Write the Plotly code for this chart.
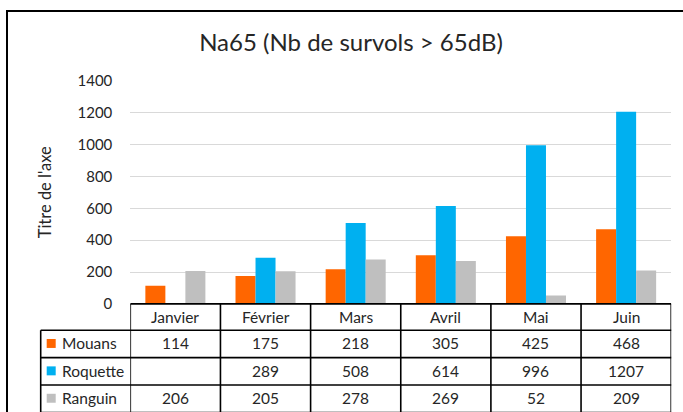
import plotly.graph_objects as go

months = ["Janvier", "Février", "Mars", "Avril", "Mai", "Juin"]
series_names = ["Mouans", "Roquette", "Ranguin"]
mouans = [114, 175, 218, 305, 425, 468]
roquette = [None, 289, 508, 614, 996, 1207]
ranguin = [206, 205, 278, 269, 52, 209]
y_ticks = [0, 200, 400, 600, 800, 1000, 1200, 1400]

colors = ["#FF6600", "#00B0F0", "#BFBFBF"]
values = [mouans, roquette, ranguin]

W, H = 683, 412
FONT = "Lato"
TXT = "#262626"
TS = 15.5


def px(x):
    return x / W


def py(r):
    # vertical position (target pixel r, from top) -> paper coordinate
    y = (r - 9.5) / 0.96
    return (H - y) / H


fig = go.Figure()
for name, vals, col in zip(series_names, values, colors):
    fig.add_trace(go.Bar(x=months, y=vals, name=name, marker_color=col,
                         marker_line_width=0))

shapes = []
annotations = []
LW = 1.6
n = len(months)
t_top, rows_y = 304.5, [331, 358.5, 386, 413.5]
leg_left, right = 40.7, 671.2
shapes.append(dict(type="line", xref="x", yref="paper", x0=-0.5, x1=n - 0.5,
                   y0=py(t_top), y1=py(t_top), line=dict(color="black", width=LW)))
for ry in rows_y:
    shapes.append(dict(type="line", xref="paper", yref="paper", x0=px(leg_left), x1=px(right),
                       y0=py(ry), y1=py(ry), line=dict(color="black", width=LW)))
for k in range(n + 1):
    shapes.append(dict(type="line", xref="x", yref="paper", x0=k - 0.5, x1=k - 0.5,
                       y0=py(t_top), y1=py(rows_y[-1]), line=dict(color="black", width=LW)))
shapes.append(dict(type="line", xref="paper", yref="paper", x0=px(leg_left), x1=px(leg_left),
                   y0=py(rows_y[0]), y1=py(rows_y[-1]), line=dict(color="black", width=LW)))
shapes.append(dict(type="rect", xref="paper", yref="paper", x0=px(7), x1=px(W + 5),
                   y0=py(H + 20), y1=py(10.5), line=dict(color="black", width=2)))

hc = (t_top + rows_y[0]) / 2
for m in months:
    annotations.append(dict(x=m, y=py(hc), xref="x", yref="paper", text=m, showarrow=False,
                            font=dict(family=FONT, size=TS, color=TXT), yanchor="middle"))
for i, (name, vals, col) in enumerate(zip(series_names, values, colors)):
    cy = (rows_y[i] + rows_y[i + 1]) / 2 - 0.5
    shapes.append(dict(type="rect", xref="paper", yref="paper", x0=px(46.7), x1=px(55.7),
                       y0=py(cy + 4.5), y1=py(cy - 4.5), fillcolor=col, line=dict(width=0)))
    annotations.append(dict(x=px(59.5), y=py(cy), xref="paper", yref="paper", text=name,
                            showarrow=False, xanchor="left", yanchor="middle",
                            font=dict(family=FONT, size=TS, color=TXT)))
    for m, v in zip(months, vals):
        annotations.append(dict(x=m, y=py(cy), xref="x", yref="paper",
                                text="" if v is None else str(v), showarrow=False,
                                yanchor="middle", font=dict(family=FONT, size=TS, color=TXT)))

annotations.append(dict(x=px(45), y=py(192.5), xref="paper", yref="paper", text="Titre de l'axe",
                        textangle=-90, showarrow=False, xanchor="center", yanchor="middle",
                        font=dict(family=FONT, size=16.5, color=TXT)))

fig.update_layout(
    width=W, height=H,
    margin=dict(l=0, r=0, t=0, b=0),
    paper_bgcolor="white", plot_bgcolor="white",
    barmode="group", bargap=0.334, bargroupgap=0,
    showlegend=False,
    title=dict(text="Na65 (Nb de survols > 65dB)", x=px(351), xanchor="center",
               y=py(50.8), yanchor="middle", font=dict(family=FONT, size=24, color=TXT)),
    xaxis=dict(domain=[px(130.3), px(right)], range=[-0.5, n - 0.5], showticklabels=False,
               showgrid=False, zeroline=False, showline=False, ticks=""),
    yaxis=dict(domain=[py(304.5), py(80.7)], range=[0, 1400], tickvals=y_ticks,
               showgrid=True, gridcolor="#D9D9D9", gridwidth=1, zeroline=False,
               showline=False, ticks="outside", ticklen=14, tickcolor="rgba(0,0,0,0)",
               tickfont=dict(family=FONT, size=15, color=TXT)),
    shapes=shapes, annotations=annotations,
)

fig.write_html("out.html", config={"displayModeBar": False},
               post_script="document.body.style.margin='0';")
